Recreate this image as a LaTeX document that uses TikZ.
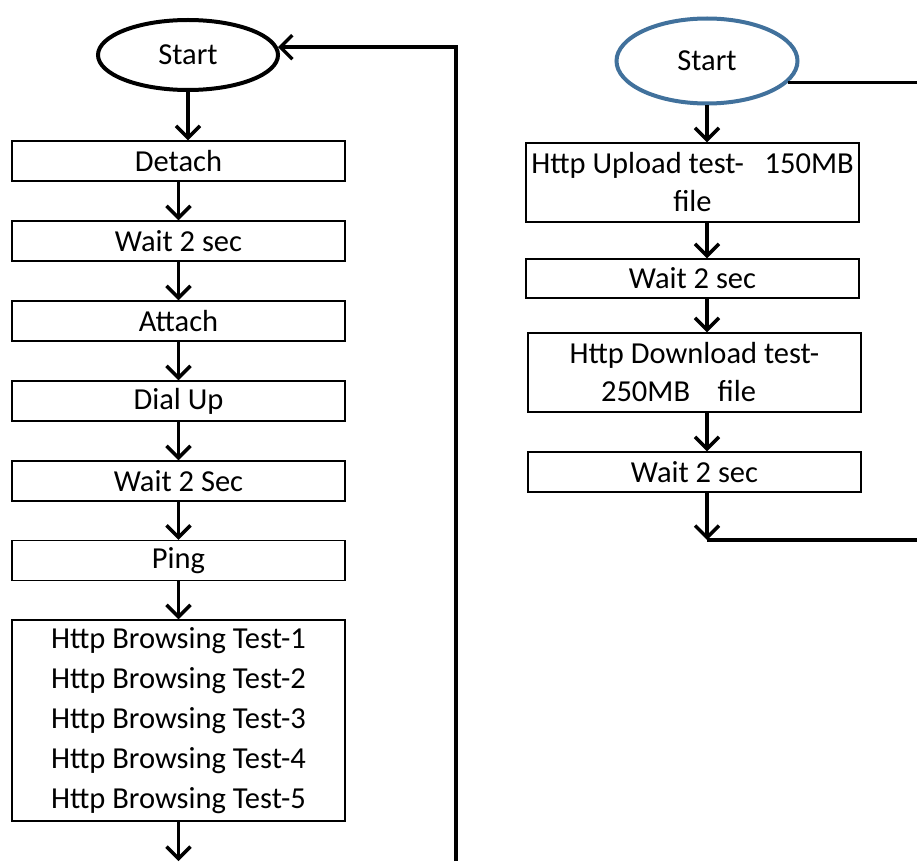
\documentclass[tikz,border=0pt]{standalone}
\usepackage{fontspec}
\setmainfont{Carlito}
\usepackage{xcolor}
\usetikzlibrary{arrows.meta}
\usetikzlibrary{shapes.geometric}
\definecolor{startblue}{HTML}{41719C}
\tikzset{
    tnode/.style = {align=center, inner sep=0pt, text centered, font=\fontsize{30.5}{40}\selectfont},
    box/.style = {tnode, rectangle, draw=black, line width=1.3pt, minimum width=333pt, minimum height=40pt},
    start_node/.style = {tnode, ellipse, draw=black, line width=4pt, minimum width=180pt, minimum height=70pt},
    start_blue/.style = {start_node, draw=startblue, minimum width=181pt, minimum height=85pt},
    flow/.style = {->, line width=3.5pt},
    back/.style = {-, line width=3.5pt}
}

\begin{document}
\begin{tikzpicture}
            [x=1pt, y=-1pt,
            >={Straight Barb[length=12pt, width=24pt]}]

            \useasboundingbox (0,0) rectangle (917,861);

            \node [start_node] (start_l) at (188,55) {Start};
            \node [box] (detach) at (178.5,161) {Detach};
            \node [box] (wait_a) at (178.5,241) {Wait 2 sec};
            \node [box] (attach) at (178.5,321) {Attach};
            \node [box] (dial) at (178.5,401) {Dial Up};
            \node [box] (wait_b) at (178.5,481) {Wait 2 Sec};
            \node [box] (ping) at (178.5,560.5) {Ping};
            \node [box, minimum height=201pt] (browse) at (178.5,720.5)
                {Http Browsing Test-1\\Http Browsing Test-2\\Http Browsing Test-3\\Http Browsing Test-4\\Http Browsing Test-5};

            \node [start_blue] (start_r) at (707,61) {Start};
            \node [box, minimum height=79pt, font=\fontsize{30.5}{38}\selectfont] (upload) at (692.5,182.5)
                {Http Upload test-~~~150MB\\file};
            \node [box, minimum height=39pt] (wait_c) at (692.5,278.5) {Wait 2 sec};
            \node [box, minimum height=79pt, font=\fontsize{30.5}{38}\selectfont] (download) at (694.5,372.5)
                {Http Download test-\\250MB~~~~file\hspace*{32pt}};
            \node [box] (wait_d) at (694.5,472) {Wait 2 sec};

            \coordinate (l_end) at (188,861);
            \coordinate (l_loop) at (456,861);
            \coordinate (r_end) at (917,540);
            \coordinate (r_turn) at (r_end -| start_r);

            \draw [flow] (start_l.south) -- (start_l.south |- detach.north);
            \draw [flow] (detach) -- (wait_a);
            \draw [flow] (wait_a) -- (attach);
            \draw [flow] (attach) -- (dial);
            \draw [flow] (dial) -- (wait_b);
            \draw [flow] (wait_b) -- (ping);
            \draw [flow] (ping) -- (browse);
            \draw [flow] (browse.south) -- (browse.south |- l_end);
            \draw [flow] (l_loop) -- (l_loop |- start_l.5) -- (start_l.5);

            \draw [flow] (start_r.south) -- (start_r.south |- upload.north);
            \draw [flow] (upload.south -| start_r) -- (wait_c.north -| start_r);
            \draw [flow] (wait_c.south -| start_r) -- (download.north -| start_r);
            \draw [flow] (download.south -| start_r) -- (wait_d.north -| start_r);
            \draw [flow] (wait_d.south -| start_r) -- (r_turn);
            \draw [back] (r_turn) -- (r_end);
            \draw [back] (start_r.-15) -- (start_r.-15 -| r_end);
\end{tikzpicture}
\end{document}
